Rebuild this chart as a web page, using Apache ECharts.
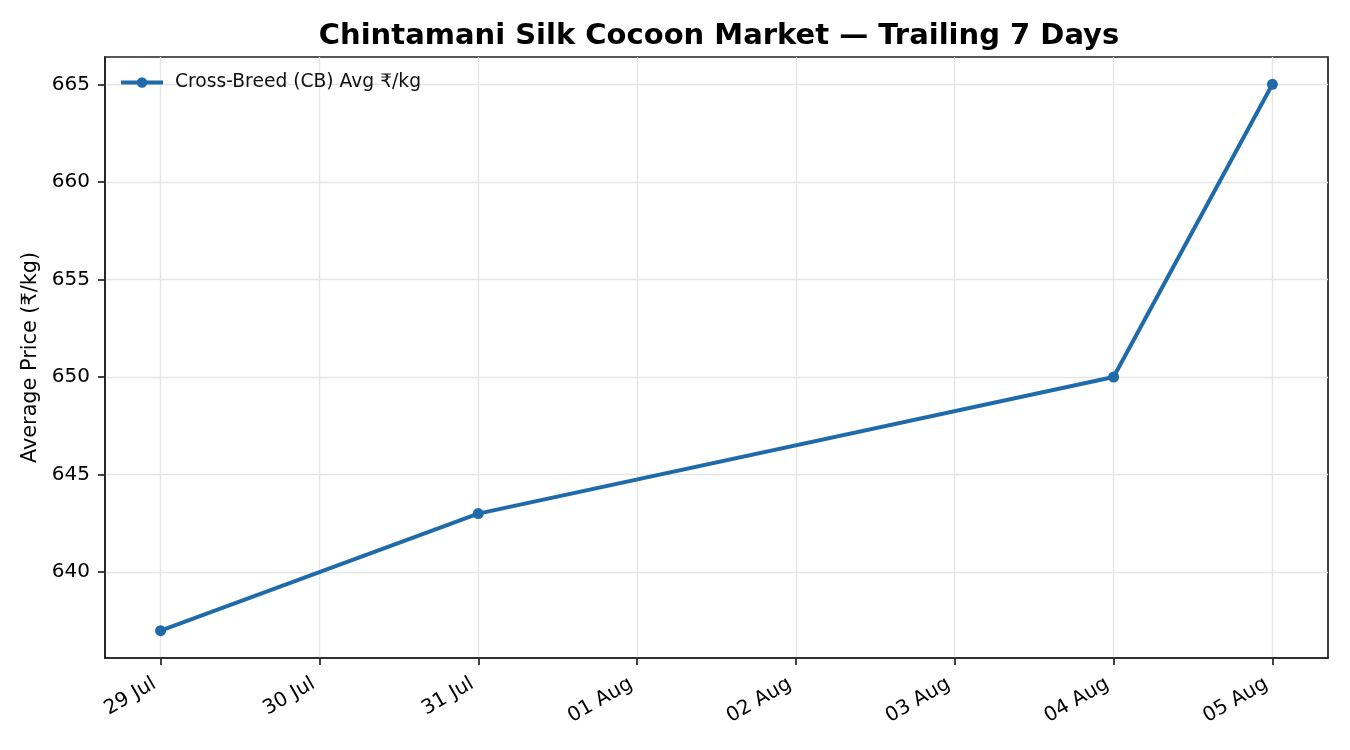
<!DOCTYPE html>
<html>
<head>
<meta charset="utf-8">
<script src="https://cdn.jsdelivr.net/npm/echarts@6/dist/echarts.min.js"></script>
<style>html,body{margin:0;padding:0;background:#fff}#c{width:1350px;height:750px}</style>
</head>
<body>
<div id="c"></div>
<script>
var dateLabels = ['29 Jul','30 Jul','31 Jul','01 Aug','02 Aug','03 Aug','04 Aug','05 Aug'];
var pointDates = ['29 Jul','31 Jul','04 Aug','05 Aug'];
var prices = [637, 643, 650, 665];
var yTicks = [640, 645, 650, 655, 660, 665];
var seriesName = 'Cross-Breed (CB) Avg ₹/kg';

var xIdx = dateLabels.map(function(d,i){return i;});
var data = pointDates.map(function(d,i){return [dateLabels.indexOf(d), prices[i]];});
var yMin = Math.min.apply(null, prices), yMax = Math.max.apply(null, prices);
var yPad = (yMax - yMin) * 0.05;
var xPad = (dateLabels.length - 1) * 0.05;

var font = 'DejaVu Sans';
var chart = echarts.init(document.getElementById('c'), null, {renderer:'canvas'});
chart.setOption({
  animation:false,
  backgroundColor:'#fff',
  textStyle:{fontFamily:font},
  title:{
    text:'Chintamani Silk Cocoon Market — Trailing 7 Days',
    left:714, top:17, textAlign:'center',
    textStyle:{fontFamily:font, fontWeight:'bold', fontSize:29, color:'#000'}
  },
  legend:{
    left:119, top:73, padding:0, itemWidth:42, itemHeight:13, itemGap:10,
    lineStyle:{width:4},
    textStyle:{fontFamily:font, fontSize:18.7, color:'#111', padding:[0,0,0,7]},
    data:[seriesName]
  },
  grid:{left:105, right:22, top:57, bottom:92, show:true, borderColor:'#222', borderWidth:1.7, backgroundColor:'transparent'},
  xAxis:{
    type:'value', min:-xPad, max:dateLabels.length - 1 + xPad,
    minInterval:1, maxInterval:1, splitNumber:7,
    axisLine:{show:true, onZero:false, lineStyle:{color:'#222', width:1.7}},
    axisTick:{show:true, length:7, lineStyle:{color:'#222', width:1.7}, customValues:xIdx},
    axisLabel:{customValues:xIdx, rotate:30, margin:21, padding:[0,7,0,0], fontSize:20, color:'#000', fontFamily:font,
      formatter:function(v){var i=Math.round(v); return (Math.abs(v-i)<1e-6 && dateLabels[i]) ? dateLabels[i] : '';}},
    splitLine:{show:true, lineStyle:{color:'#e5e5e5', width:1.3}}
  },
  yAxis:{
    type:'value', min:yMin - yPad, max:yMax + yPad,
    minInterval:5, maxInterval:5, splitNumber:6,
    name:'Average Price (₹/kg)', nameLocation:'middle', nameGap:62, nameRotate:90,
    nameTextStyle:{fontFamily:font, fontSize:20.8, color:'#000'},
    axisLine:{show:true, onZero:false, lineStyle:{color:'#222', width:1.7}},
    axisTick:{show:true, length:7, lineStyle:{color:'#222', width:1.7}, customValues:yTicks},
    axisLabel:{customValues:yTicks, margin:15, fontSize:20, color:'#000', fontFamily:font,
      formatter:function(v){return (Math.abs(v - Math.round(v))<1e-6) ? String(Math.round(v)) : '';}},
    splitLine:{show:true, lineStyle:{color:'#e5e5e5', width:1.3}}
  },
  series:[{
    name:seriesName, type:'line', data:data,
    symbol:'circle', symbolSize:11,
    itemStyle:{color:'#1f6aa8'},
    lineStyle:{color:'#1f6aa8', width:4},
    emphasis:{disabled:true}
  }]
});
</script>
</body>
</html>
